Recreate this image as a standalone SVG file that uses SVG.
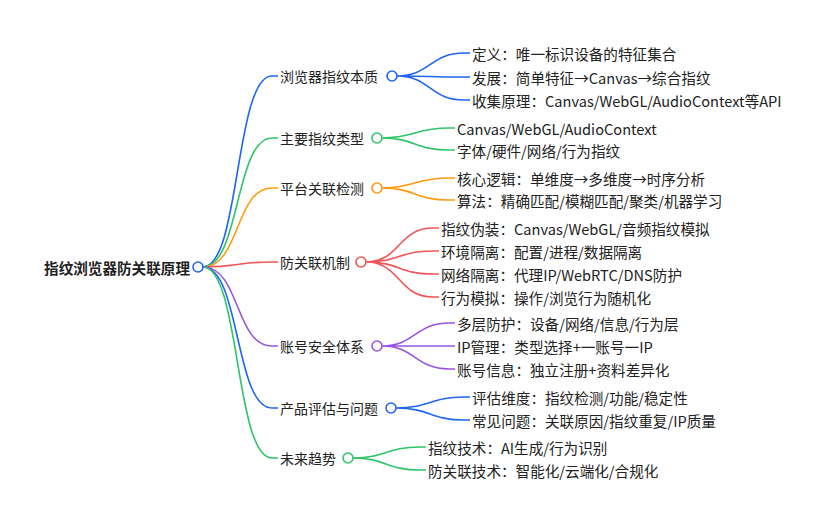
<svg xmlns="http://www.w3.org/2000/svg" width="828" height="523" viewBox="0 0 828 523">
<style>
text{font-family:"Noto Sans CJK SC","Noto Sans",sans-serif;font-size:14.6px;fill:#222;dominant-baseline:central}
.root{font-weight:bold;font-size:14.6px}
.l1{font-size:14px}
path{fill:none;stroke-width:1.6}
circle{fill:#fff;stroke-width:1.6}
.b{stroke:#1f66f2}.g{stroke:#2fc46a}.o{stroke:#ff9a0f}.r{stroke:#f25555}.p{stroke:#9656e0}
</style>
<rect width="828" height="523" fill="#fff"/>
<g id="connectors">
<path class="b" d="M203,267 C240,267 235,76 272,76 H278"/>
<path class="g" d="M203,267 C240,267 235,138 272,138 H278"/>
<path class="o" d="M203,267 C240,267 235,188 272,188 H278"/>
<path class="r" d="M203,267 C240,267 235,262 272,262 H278"/>
<path class="p" d="M203,267 C240,267 235,346 272,346 H278"/>
<path class="b" d="M203,267 C240,267 235,408 272,408 H278"/>
<path class="g" d="M203,267 C240,267 235,458 272,458 H278"/>
<path class="b" d="M397,76 C430,76 430,53 464,53 H470 M397,76 C430,76 430,77 464,77 H470 M397,76 C430,76 430,100 464,100 H470"/>
<path class="g" d="M382,138 C415,138 415,128 449,128 H455 M382,138 C415,138 415,150 449,150 H455"/>
<path class="o" d="M382,188 C415,188 415,178 449,178 H455 M382,188 C415,188 415,200 449,200 H455"/>
<path class="r" d="M366,262 C400,262 398,228 433,228 H439 M366,262 C400,262 398,251 433,251 H439 M366,262 C400,262 398,274 433,274 H439 M366,262 C400,262 398,297 433,297 H439"/>
<path class="p" d="M382,346 C415,346 415,323 449,323 H455 M382,346 C415,346 415,346 449,346 H455 M382,346 C415,346 415,369 449,369 H455"/>
<path class="b" d="M396,408 C430,408 430,397 464,397 H470 M396,408 C430,408 430,420 464,420 H470"/>
<path class="g" d="M353,458 C386,458 386,447 420,447 H426 M353,458 C386,458 386,470 420,470 H426"/>
</g>
<g id="root"><text class="root" x="190" y="267" text-anchor="end">指纹浏览器防关联原理</text><circle class="b" cx="198" cy="267" r="5"/></g>
<g id="n1"><text class="l1" x="280" y="76">浏览器指纹本质</text><circle class="b" cx="392" cy="76" r="5"/></g>
<g id="n2"><text class="l1" x="280" y="138">主要指纹类型</text><circle class="g" cx="377" cy="138" r="5"/></g>
<g id="n3"><text class="l1" x="280" y="188">平台关联检测</text><circle class="o" cx="377" cy="188" r="5"/></g>
<g id="n4"><text class="l1" x="280" y="262">防关联机制</text><circle class="r" cx="361" cy="262" r="5"/></g>
<g id="n5"><text class="l1" x="280" y="346">账号安全体系</text><circle class="p" cx="377" cy="346" r="5"/></g>
<g id="n6"><text class="l1" x="280" y="408">产品评估与问题</text><circle class="b" cx="391" cy="408" r="5"/></g>
<g id="n7"><text class="l1" x="280" y="458">未来趋势</text><circle class="g" cx="348" cy="458" r="5"/></g>
<g id="leaves">
<text x="472" y="53">定义：唯一标识设备的特征集合</text>
<text x="472" y="77">发展：简单特征→Canvas→综合指纹</text>
<text x="472" y="100">收集原理：Canvas/WebGL/AudioContext等API</text>
<text x="457" y="128">Canvas/WebGL/AudioContext</text>
<text x="457" y="150">字体/硬件/网络/行为指纹</text>
<text x="457" y="178">核心逻辑：单维度→多维度→时序分析</text>
<text x="457" y="200">算法：精确匹配/模糊匹配/聚类/机器学习</text>
<text x="441" y="228">指纹伪装：Canvas/WebGL/音频指纹模拟</text>
<text x="441" y="251">环境隔离：配置/进程/数据隔离</text>
<text x="441" y="274">网络隔离：代理IP/WebRTC/DNS防护</text>
<text x="441" y="297">行为模拟：操作/浏览行为随机化</text>
<text x="457" y="323">多层防护：设备/网络/信息/行为层</text>
<text x="457" y="346">IP管理：类型选择+一账号一IP</text>
<text x="457" y="369">账号信息：独立注册+资料差异化</text>
<text x="472" y="397">评估维度：指纹检测/功能/稳定性</text>
<text x="472" y="420">常见问题：关联原因/指纹重复/IP质量</text>
<text x="428" y="447">指纹技术：AI生成/行为识别</text>
<text x="428" y="470">防关联技术：智能化/云端化/合规化</text>
</g>
</svg>
